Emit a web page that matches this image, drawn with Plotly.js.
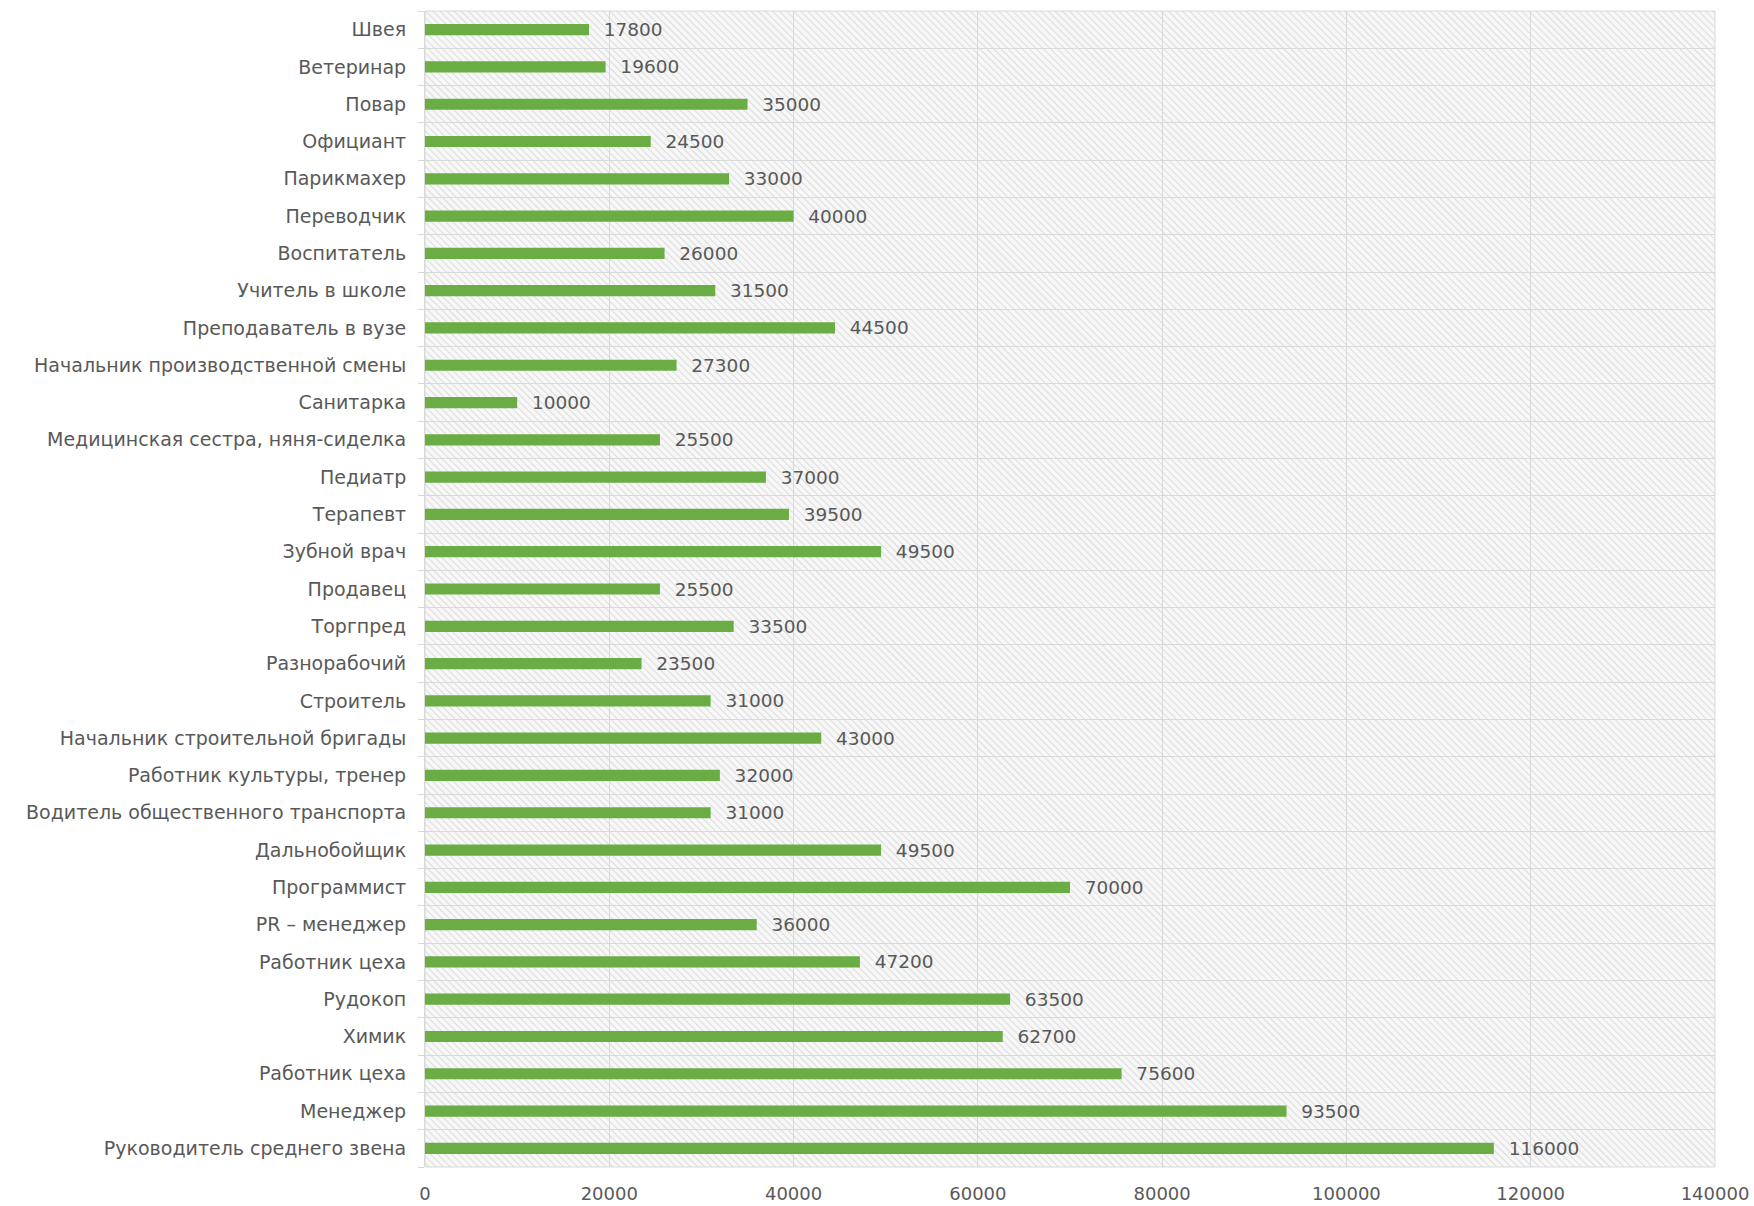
<!DOCTYPE html>
<html><head><meta charset="utf-8">
<script src="https://cdn.plot.ly/plotly-3.0.1.min.js"></script>
<style>html,body{margin:0;padding:0;background:#fff}#chart{width:1754px;height:1206px}</style>
</head><body><div id="chart"></div>
<script>
const categories = ["Швея","Ветеринар","Повар","Официант","Парикмахер","Переводчик","Воспитатель","Учитель в школе","Преподаватель в вузе","Начальник производственной смены","Санитарка","Медицинская сестра, няня-сиделка","Педиатр","Терапевт","Зубной врач","Продавец","Торгпред","Разнорабочий","Строитель","Начальник строительной бригады","Работник культуры, тренер","Водитель общественного транспорта","Дальнобойщик","Программист","PR – менеджер","Работник цеха","Рудокоп","Химик","Работник цеха","Менеджер","Руководитель среднего звена"];
const salaries = [17800,19600,35000,24500,33000,40000,26000,31500,44500,27300,10000,25500,37000,39500,49500,25500,33500,23500,31000,43000,32000,31000,49500,70000,36000,47200,63500,62700,75600,93500,116000];
const xTicks = [0,20000,40000,60000,80000,100000,120000,140000];

const pos = categories.map((_, i) => i);
const bounds = categories.map((_, i) => i - 0.5).concat([categories.length - 0.5]);

const W = 1290, H = 1156;
const svg = `<svg xmlns="http://www.w3.org/2000/svg" width="${W}" height="${H}" viewBox="0 0 ${W} ${H}" preserveAspectRatio="none"><defs><pattern id="p" width="5" height="5" patternUnits="userSpaceOnUse" patternTransform="rotate(-45)"><rect width="5" height="5" fill="#f7f7f7"/><line x1="0" y1="0" x2="0" y2="5" stroke="#dddddd" stroke-width="2"/></pattern></defs><rect width="${W}" height="${H}" fill="url(#p)"/></svg>`;
const bg = 'data:image/svg+xml;charset=utf-8,' + encodeURIComponent(svg);

const FONT = 'DejaVu Sans, sans-serif';

const trace = {
  type: 'bar', orientation: 'h',
  x: salaries, y: pos,
  marker: {color: '#6aad45'},
  width: 0.3,
  text: salaries.map(v => '  ' + v),
  textposition: 'outside',
  constraintext: 'none',
  cliponaxis: false,
  textfont: {family: FONT, size: 18.5, color: '#595959'},
  hoverinfo: 'none'
};

const layout = {
  width: 1754, height: 1206,
  margin: {l: 425, r: 39, t: 11, b: 39},
  paper_bgcolor: '#ffffff',
  plot_bgcolor: 'rgba(0,0,0,0)',
  showlegend: false,
  font: {family: FONT, size: 18, color: '#595959'},
  images: [{source: bg, xref: 'paper', yref: 'paper', x: 0, y: 1, sizex: 1, sizey: 1, sizing: 'stretch', layer: 'below'}],
  xaxis: {
    range: [0, 140000], tickvals: xTicks, ticktext: xTicks.map(String),
    showgrid: true, gridcolor: '#d9d9d9', gridwidth: 1,
    zeroline: false, showline: false, ticks: '', ticklabelstandoff: 14,
    tickfont: {family: FONT, size: 18, color: '#595959'}, fixedrange: true
  },
  yaxis: {
    range: [categories.length - 0.5, -0.5],
    tickvals: pos, ticktext: categories,
    showgrid: false, zeroline: false, ticks: '', ticklabelstandoff: 14,
    minor: {tickvals: bounds, showgrid: true, gridcolor: '#d9d9d9', gridwidth: 1, ticks: 'outside', ticklen: 6, tickcolor: '#d9d9d9'},
    showline: true, linecolor: '#d9d9d9',
    tickfont: {family: FONT, size: 19, color: '#595959'}, fixedrange: true
  },
  shapes: [{type: 'rect', xref: 'paper', yref: 'paper', x0: 0, x1: 1, y0: 0, y1: 1, line: {color: '#d9d9d9', width: 1}, fillcolor: 'rgba(0,0,0,0)', layer: 'below'}]
};

Plotly.newPlot('chart', [trace], layout, {displayModeBar: false, staticPlot: true});
</script></body></html>
